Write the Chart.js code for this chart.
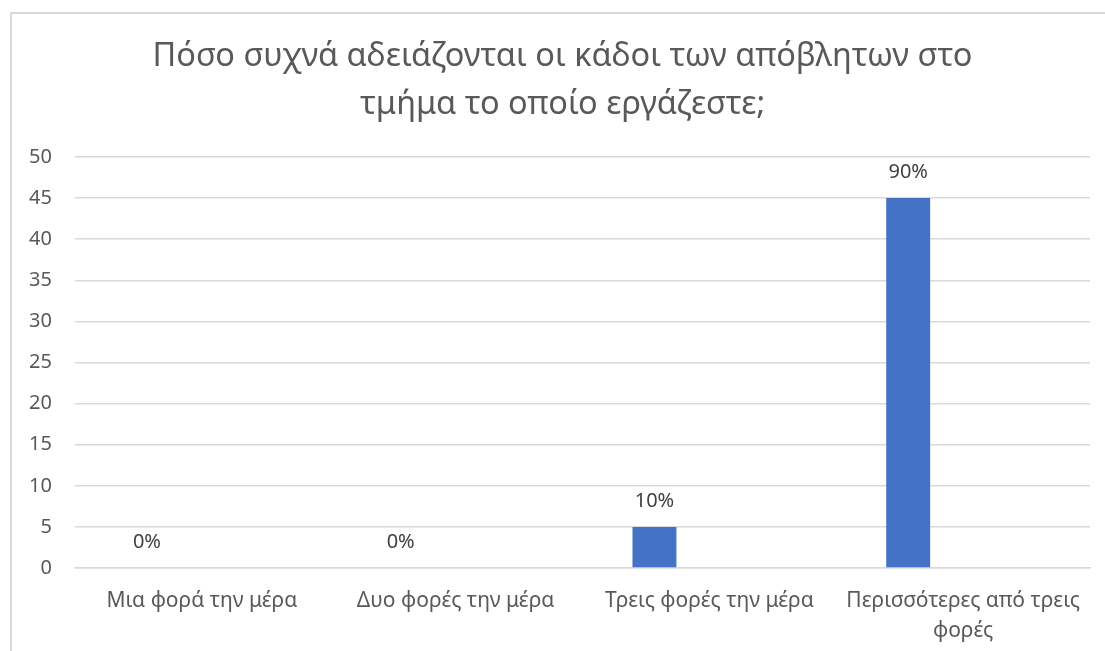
<!DOCTYPE html>
<html>
<head>
<meta charset="utf-8">
<script src="https://cdn.jsdelivr.net/npm/chart.js@4/dist/chart.umd.min.js"></script>
<style>
  html, body { margin: 0; padding: 0; background: #fff; }
  #frame { position: absolute; left: 10px; top: 12px; width: 1110px; height: 660px; border: 2px solid #d9d9d9; }
  #wrap { position: absolute; left: 0; top: 0; width: 1105px; height: 651px; }
</style>
</head>
<body>
<div id="frame"></div>
<div id="wrap"><canvas id="grafico"></canvas></div>
<script>
// data
const categorias = ['Μια φορά την μέρα', 'Δυο φορές την μέρα', 'Τρεις φορές την μέρα', ['Περισσότερες από τρεις', 'φορές']];
const valores = [0, 0, 5, 45];
const rotulos = ['0%', '0%', '10%', '90%'];
const serieVazia = []; // second (empty) series of the original Excel chart
const yTicks = [0, 5, 10, 15, 20, 25, 30, 35, 40, 45, 50];
const titulo = ['Πόσο συχνά αδειάζονται οι κάδοι των απόβλητων στο', 'τμήμα το οποίο εργάζεστε;'];

const fonte = "Noto Sans, sans-serif";
const cinza = '#595959';

// titulo desenhado a mao para poder centrar como no Excel
const tituloPlugin = {
    id: 'titulo',
    afterDraw(chart) {
        const ctx = chart.ctx;
        ctx.save();
        ctx.font = '32.5px ' + fonte;
        ctx.fillStyle = cinza;
        ctx.textAlign = 'center';
        ctx.textBaseline = 'middle';
        titulo.forEach((linha, i) => {
            ctx.fillText(linha, chart.width / 2 + 10, 57 + i * 48);
        });
        ctx.restore();
    }
};

const rotulosPlugin = {
    id: 'rotulos',
    afterDatasetsDraw(chart) {
        const ctx = chart.ctx;
        const meta = chart.getDatasetMeta(0);
        ctx.save();
        ctx.font = '20px ' + fonte;
        ctx.fillStyle = '#404040';
        ctx.textAlign = 'center';
        ctx.textBaseline = 'middle';
        meta.data.forEach((bar, i) => {
            ctx.fillText(rotulos[i], bar.x, bar.y - 26);
        });
        ctx.restore();
    }
};

const ctx = document.getElementById('grafico').getContext('2d');
const grafico = new Chart(ctx, {
    type: 'bar',
    data: {
        labels: categorias,
        datasets: [{
            label: 'Série 1',
            data: valores,
            backgroundColor: '#4472C4',
            categoryPercentage: 0.866,
            barPercentage: 0.4
        }, {
            label: 'Série 2',
            data: serieVazia,
            backgroundColor: '#ED7D31',
            categoryPercentage: 0.866,
            barPercentage: 0.4
        }]
    },
    options: {
        responsive: true,
        maintainAspectRatio: false,
        animation: false,
        layout: { padding: { top: 157, right: 15, left: 0, bottom: 0 } },
        plugins: {
            legend: { display: false },
            tooltip: { enabled: false },
            title: { display: false }
        },
        scales: {
            x: {
                grid: { display: false, drawTicks: false },
                border: { color: '#d9d9d9', width: 1.5 },
                ticks: {
                    color: cinza,
                    font: { family: fonte, size: 21, lineHeight: 1.4 },
                    padding: 18.5,
                    maxRotation: 0,
                    autoSkip: false
                },
                afterFit(s) { s.height = 83; }
            },
            y: {
                min: 0,
                max: 50,
                grid: { color: '#d9d9d9', lineWidth: 1.5, drawTicks: false },
                border: { display: false },
                afterBuildTicks(s) { s.ticks = yTicks.map(v => ({ value: v })); },
                ticks: {
                    color: cinza,
                    font: { family: fonte, size: 20 },
                    padding: 23
                },
                afterFit(s) { s.width = 75; }
            }
        }
    },
    plugins: [rotulosPlugin, tituloPlugin]
});
</script>
</body>
</html>
